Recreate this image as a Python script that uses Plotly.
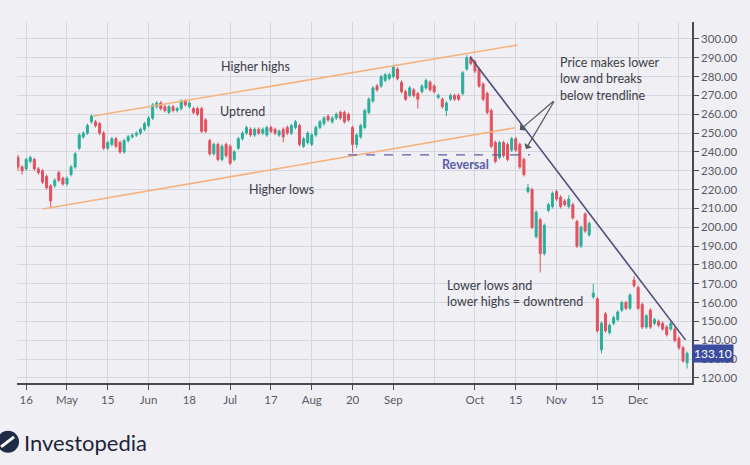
import plotly.graph_objects as go

# ---------------- data ----------------
opens = [237,232,231,235,236,231,230,227,222,222,229,226,223,228,232,242,248,250,256,256,
         255,250,242,244,247,245,240,246,248,249,250,252,254,258,264,266,264,261,264,262,
         263,267,264,263,263,263,257,246,239,244,236,244,243,236,242,247,250,252,249,252,
         250,249,253,252,249,252,253,250,253,254,243,245,244,249,253,255,259,256,258,261,
         261,260,253,244,248,253,261,267,275,275,278,279,280,284,277,272,270,273,271,272,
         274,277,275,269,268,262,268,270,270,271,284,290,288,284,276,271,262,245,237,245,
         244,241,247,244,236,219,220,195,204,186,209,211,219,216,214,211,212,203,190,207,
         196,163,162,135,154,144,149,151,156,160,157,172,168,159,147,156,149,150,149,147,
         146,146,141,136,128]
highs = [238.5,233,237,238,237,232,231,228,223,226,230,227,227,233,240,250,251,255,260,257,
         256,251,246,248,248,246,247,249,250,251,253,256,259,266,267,267,265,265,265,264,
         268,268,267,264,264,264,258,247,245,245,244,245,244,241,248,251,254,253,253,253,
         253,254,254,253,252,253,254,255,257,255,248,251,250,254,257,259,260,259,261,262,
         262,261,254,250,255,263,269,275,276,281,282,282,286,285,278,273,275,274,272,276,
         279,278,276,271,269,267,271,271,271,283,291.5,291,289,285,277,272,263,246,246,246,
         245,248,248,245,237,223,221,209,205,202,213,219,220,217,215,217,213,204,201,208,
         203,170,163,150,155,149,153,156,161,161,165,174,169,160,154,157,152,151,150,148,
         150,147,142,137,134]
lows = [230,228,230,234,230,228,223,220,210,221,224,222,222,227,231,241,247,249,255,253,
        249,241,241,243,242,239,239,245,247,248,249,251,253,257,263,262,261,260,261,261,
        262,264,263,260,259,250,250,238,238,235,235,237,233,235,241,246,249,248,248,249,
        249,248,250,249,248,245,249,249,252,243,242,244,243,248,252,254,256,255,257,257,
        255,256,239.5,242,247,252,260,266,272,274,277,278,279,278,271,267,269,269,263,271,
        273,272,271,268,263,259,267,267,267,270,283,286,282,274,267,260,242,234,236,237,
        235,240,240,231,227,218,199,194,176,185,208,210,214,210,211,210,204,189,189,197,
        195,162,144,133,144,143,148,150,155,156,156,168,156,146,146,146,148,147,145,142,
        145,139,135,128,125]
closes = [232,230,236,237,231,229,224,221,214,225,225,223,226,232,239,249,250,254,259,254,
          250,242,245,247,243,240,246,248,249,250,252,255,258,265,266,263,262,264,262,263,
          267,265,266,261,260,251,251,239,244,236,243,238,234,240,247,250,253,249,252,250,
          252,253,251,250,251,248,250,254,256,244,247,250,249,253,256,258,257,258,260,258,
          256,257,244,249,254,262,268,274,273,280,281,281,285,279,272,268,274,270,268,275,
          278,273,272,270,264,266,270,268,268,282,290,287,283,275,268,261,243,235,245,238,
          236,247,241,232,228,221,200,208,186,201,212,218,215,211,212,215,205,190,200,198,
          202,165,145,149,145,148,152,155,160,157,164,169,157,147,153,147,151,148,146,143,
          149,140,136,129,133.1]
session = list(range(len(closes)))

tick_pos = [2, 12, 22, 32, 42, 52, 62, 72, 82, 92, 112, 122, 132, 142, 152]
tick_text = ["16", "May", "15", "Jun", "18", "Jul", "17", "Aug", "20", "Sep",
             "Oct", "15", "Nov", "15", "Dec"]
extra_grid = [102, 162]
last_price = 133.10

GREEN = "#2aae9a"
RED = "#e2515f"
BG = "#efeff4"
GRID = "#d6d6df"
FONT = "Lato"

fig = go.Figure(go.Candlestick(
    x=session, open=opens, high=highs, low=lows, close=closes,
    increasing=dict(line=dict(color=GREEN, width=1), fillcolor=GREEN),
    decreasing=dict(line=dict(color=RED, width=1), fillcolor=RED),
    whiskerwidth=0, showlegend=False, hoverinfo="skip"))

# channel and trend lines
line_specs = [
    dict(x0=18.4, y0=259.1, x1=122.5, y1=296.8, line=dict(color="#f6b27d", width=1.6)),
    dict(x0=6.1, y0=209.7, x1=121.8, y1=252.8, line=dict(color="#f6b27d", width=1.6)),
    dict(x0=110.8, y0=290.6, x1=163.6, y1=140.2, line=dict(color="#4b4f7a", width=1.6)),
    dict(x0=80.9, y0=238.4, x1=125.5, y1=238.4, line=dict(color="#5a60a0", width=1.3, dash="dash")),
]
for s in line_specs:
    fig.add_shape(type="line", xref="x", yref="y", **s)

# logo circle
fig.add_shape(type="circle", xref="paper", yref="paper", xsizemode="pixel", ysizemode="pixel",
              xanchor=-0.0133, yanchor=-0.163, x0=-11, x1=11, y0=-11, y1=11,
              fillcolor="#1f2a44", line=dict(width=0))
fig.add_shape(type="line", xref="paper", yref="paper", xsizemode="pixel", ysizemode="pixel",
              xanchor=-0.0133, yanchor=-0.163, x0=-7, x1=6, y0=-5, y1=5,
              line=dict(color="white", width=3))

txt = dict(color="#3d3d48", family=FONT, size=12.5)
ann = [
    dict(x=58.3, y=285.2, text="Higher highs", showarrow=False, font=txt),
    dict(x=55.1, y=261.3, text="Uptrend", showarrow=False, font=txt),
    dict(x=64.5, y=219.8, text="Higher lows", showarrow=False, font=txt),
    dict(x=109.6, y=233.1, text="<b>Reversal</b>", showarrow=False,
         font=dict(color="#5a60a8", family=FONT, size=12.5)),
    dict(x=132.4, y=278.8, text="Price makes lower<br>low and breaks<br>below trendline",
         showarrow=False, xanchor="left", align="left", font=txt),
    dict(x=104.7, y=164.6, text="Lower lows and<br>lower highs = downtrend",
         showarrow=False, xanchor="left", align="left", font=txt),
    dict(x=123.0, y=251.7, ax=131.6, ay=267.6, axref="x", ayref="y", text="",
         showarrow=True, arrowhead=1, arrowsize=1.2, arrowwidth=1.2, arrowcolor="#555560"),
    dict(x=124.5, y=241.6, ax=131.6, ay=267.6, axref="x", ayref="y", text="",
         showarrow=True, arrowhead=1, arrowsize=1.2, arrowwidth=1.2, arrowcolor="#555560"),
    dict(xref="paper", x=1.0, y=last_price, text=f"{last_price:.2f}", showarrow=False,
         xanchor="left", bgcolor="#3b4b9e", borderpad=1,
         font=dict(color="white", family=FONT, size=12)),
    dict(xref="paper", yref="paper", x=0.0074, y=-0.166, text="Investopedia",
         showarrow=False, xanchor="left", yanchor="middle",
         font=dict(color="#1f2538", family="Lato", size=22)),
]
for a in ann:
    fig.add_annotation(**a)

fig.update_layout(
    width=750, height=465, autosize=False,
    margin=dict(l=17, r=58, t=22, b=82),
    paper_bgcolor=BG, plot_bgcolor=BG,
    font=dict(family=FONT, color="#555560", size=11.5),
    xaxis=dict(range=[-0.25, 165.2], rangeslider=dict(visible=False),
               tickmode="array", tickvals=tick_pos, ticktext=tick_text,
               showgrid=True, gridcolor=GRID, gridwidth=1,
               showline=True, linecolor="#4a4a55", linewidth=1.5,
               ticks="outside", ticklen=5, tickcolor="#4a4a55",
               tickfont=dict(size=11.5, color="#5a5a66"),
               zeroline=False,
               minor=dict(tickmode="array", tickvals=extra_grid, showgrid=True,
                          gridcolor=GRID, ticks="")),
    yaxis=dict(side="right", range=[117.3, 309], dtick=10, tick0=0, tickformat=".2f",
               showgrid=True, gridcolor=GRID, gridwidth=1,
               showline=True, linecolor="#4a4a55", linewidth=1.5,
               ticks="outside", ticklen=5, tickcolor="#4a4a55",
               tickfont=dict(size=11.5, color="#5a5a66"), zeroline=False),
)

fig.write_html("out.html", config={"displayModeBar": False},
               post_script="document.body.style.margin='0';document.body.style.background='#efeff4';")
